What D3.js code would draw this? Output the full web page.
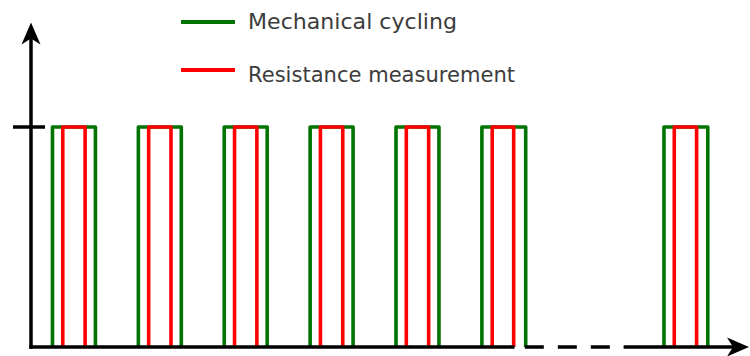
<!DOCTYPE html>
<html>
<head>
<meta charset="utf-8">
<script src="https://cdn.jsdelivr.net/npm/d3@7"></script>
<style>
  html, body { margin: 0; padding: 0; background: #fff; }
  svg { display: block; }
</style>
</head>
<body>
<svg id="chart" width="750" height="356"></svg>
<script>
// ---- data ----
const seriesNames = ["Mechanical cycling", "Resistance measurement"];
const seriesColors = ["#007400", "#ff0000"];
// pulse on/off times (in cycle units)
const mechStart = [0.75, 1.75, 2.75, 3.75, 4.75, 5.75, 7.87];
const mechEnd   = [1.25, 2.25, 3.25, 4.25, 5.25, 6.26, 8.38];
const resStart  = [0.87, 1.87, 2.87, 3.87, 4.87, 5.87, 7.99];
const resEnd    = [1.13, 2.13, 3.13, 4.13, 5.13, 6.12, 8.25];
const pulseLevel = 1;
const yTickValues = [1];
// axis break (dashed region of time axis)
const breakStart = 6.13;
const breakDashStart = 6.25;
const breakEnd = 7.24;
const breakResume = 7.4;

// ---- scales ----
const svg = d3.select("#chart");
const x = d3.scaleLinear().domain([0.5, 8.86]).range([31, 749]);
const y = d3.scaleLinear().domain([0, 1]).range([347, 127]);
const yTop = 1.475;

const line = d3.line().x(d => x(d[0])).y(d => y(d[1]));
const pulsePts = (s, e) => [[s, 0], [s, pulseLevel], [e, pulseLevel], [e, 0]];

const series = [
  { starts: mechStart, ends: mechEnd, color: seriesColors[0] },
  { starts: resStart, ends: resEnd, color: seriesColors[1] }
];

series.forEach(sr => {
  svg.append("g").selectAll("path")
    .data(sr.starts.map((s, i) => pulsePts(s, sr.ends[i])))
    .join("path")
    .attr("d", line)
    .attr("fill", "none")
    .attr("stroke", sr.color)
    .attr("stroke-width", 3.6)
    .attr("stroke-linejoin", "round");
});

// ---- axes ----
const ax = svg.append("g").attr("stroke", "#000").attr("stroke-width", 3.5).attr("fill", "none");
const x0 = x.domain()[0];
const x1 = x.domain()[1];
// vertical axis
ax.append("line").attr("x1", x(x0)).attr("x2", x(x0)).attr("y1", y(0) + 1.7).attr("y2", y(yTop) + 10);
// horizontal axis (solid, dashed break, solid)
ax.append("line").attr("x1", x(x0) - 1.7).attr("x2", x(breakStart)).attr("y1", y(0)).attr("y2", y(0));
ax.append("line").attr("x1", x(breakDashStart)).attr("x2", x(breakEnd)).attr("y1", y(0)).attr("y2", y(0))
  .attr("stroke-dasharray", "19,14");
ax.append("line").attr("x1", x(breakResume)).attr("x2", x(x1) - 10).attr("y1", y(0)).attr("y2", y(0));
// y tick
yTickValues.forEach(v => {
  ax.append("line").attr("x1", x(x0) - 18).attr("x2", x(x0) + 14).attr("y1", y(v)).attr("y2", y(v));
});
// arrowheads
const ah = svg.append("g").attr("fill", "#000");
{
  const tx = x(x0), ty = y(yTop);
  ah.append("path").attr("d", `M${tx},${ty} L${tx + 9.5},${ty + 22} L${tx},${ty + 16} L${tx - 9.5},${ty + 22} Z`);
  const rx = x(x1), ry = y(0);
  ah.append("path").attr("d", `M${rx},${ry} L${rx - 22},${ry - 9.5} L${rx - 16},${ry} L${rx - 22},${ry + 9.5} Z`);
}

// ---- legend ----
const legendY = [22, 70];
const legendTextY = [29, 82];
const legendWidths = [209, 267];
const lg = svg.append("g");
seriesNames.forEach((name, i) => {
  lg.append("line").attr("x1", 181).attr("x2", 235).attr("y1", legendY[i]).attr("y2", legendY[i])
    .attr("stroke", seriesColors[i]).attr("stroke-width", 3.8);
  lg.append("text").attr("x", 248).attr("y", legendTextY[i])
    .attr("font-family", "'DejaVu Sans', sans-serif")
    .attr("font-size", 21)
    .attr("fill", "#3c3c3c")
    .attr("textLength", legendWidths[i])
    .attr("lengthAdjust", "spacingAndGlyphs")
    .text(name);
});
</script>
</body>
</html>
